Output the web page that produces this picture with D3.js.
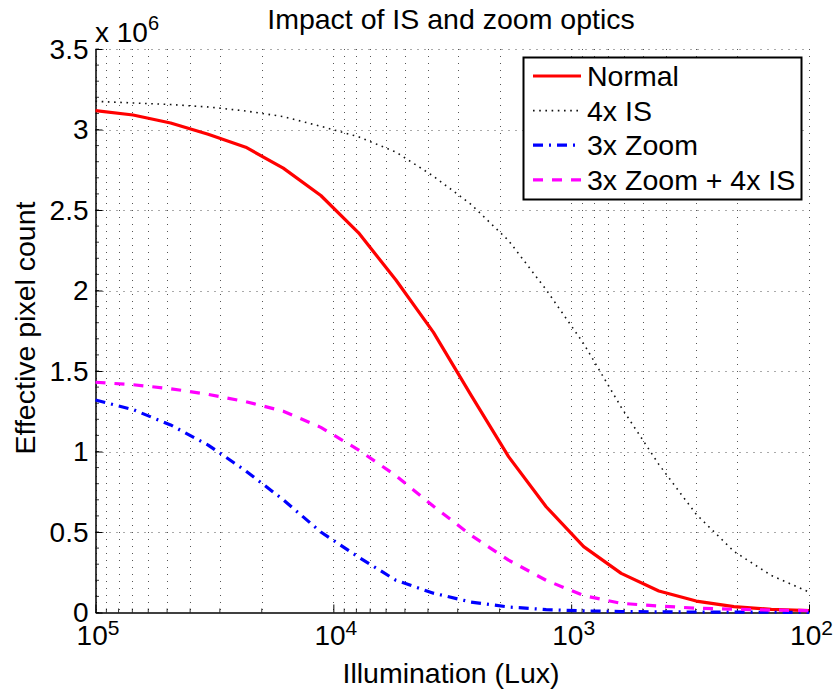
<!DOCTYPE html>
<html>
<head>
<meta charset="utf-8">
<script src="https://cdn.jsdelivr.net/npm/d3@7"></script>
<style>
  body { margin: 0; background: #fff; }
  svg { display: block; font-family: "Liberation Sans", Arial, Helvetica, sans-serif; }
</style>
</head>
<body>
<div id="chart"></div>
<script>
// illumination samples (lux), 20 log-spaced points from 1e5 down to 1e2
var lux = [100000, 69519, 48329, 33598, 23357, 16238, 11288, 7848, 5456, 3793,
           2637, 1833, 1274, 886, 616, 428, 298, 207, 144, 100];

// effective pixel count, in units of 10^6
var normal   = [3.117, 3.09, 3.04, 2.97, 2.89, 2.76, 2.59, 2.36, 2.065, 1.74,
                1.35, 0.968, 0.657, 0.409, 0.243, 0.134, 0.071, 0.036, 0.02, 0.012];
var is4x     = [3.175, 3.165, 3.155, 3.14, 3.115, 3.08, 3.02, 2.955, 2.86, 2.71,
                2.535, 2.31, 2.005, 1.67, 1.275, 0.92, 0.61, 0.38, 0.23, 0.127];
var zoom3x   = [1.32, 1.26, 1.165, 1.04, 0.88, 0.70, 0.50, 0.345, 0.20, 0.12,
                0.065, 0.034, 0.018, 0.01, 0.006, 0.004, 0.003, 0.002, 0.0015, 0.001];
var zoomIs   = [1.43, 1.415, 1.39, 1.355, 1.31, 1.25, 1.15, 1.01, 0.85, 0.66,
                0.48, 0.325, 0.20, 0.105, 0.057, 0.04, 0.027, 0.02, 0.015, 0.012];

var seriesNames = ["Normal", "4x IS", "3x Zoom", "3x Zoom + 4x IS"];
var xMajor = [1e5, 1e4, 1e3, 1e2];
var yMajor = [0, 0.5, 1, 1.5, 2, 2.5, 3, 3.5];

var W = 833, H = 689;
// plot box (careful: "top" is taken by window.top)
var pLeft = 95.5, pRight = 809, pTop = 49, pBottom = 612.5;

var svg = d3.select('#chart').append('svg')
	.attr('width', W).attr('height', H);

var x = d3.scaleLog().domain([1e5, 1e2]).range([pLeft, pRight]);
var y = d3.scaleLinear().domain([0, 3.5]).range([pBottom, pTop]);

// grid, dotted like matlab
var gGrid = svg.append('g').attr('class', 'grid');
var xMinor = x.ticks().filter(function(d){ return xMajor.indexOf(d) == -1; });
var yMinor = d3.range(0, 3.5001, 0.1);

gGrid.selectAll('line.vx')
	.data(x.ticks())
	.enter().append('line')
	.attr('class', 'vx')
	.attr('x1', function(d){ return Math.round(x(d)) + 0.5; })
	.attr('x2', function(d){ return Math.round(x(d)) + 0.5; })
	.attr('y1', pTop).attr('y2', pBottom)
	.style('stroke', '#555').style('stroke-width', 1)
	.style('stroke-dasharray', '1,6');

gGrid.selectAll('line.hy')
	.data(yMajor.slice(1))
	.enter().append('line')
	.attr('class', 'hy')
	.attr('x1', pLeft).attr('x2', pRight)
	.attr('y1', function(d){ return Math.round(y(d)) + 0.5; })
	.attr('y2', function(d){ return Math.round(y(d)) + 0.5; })
	.style('stroke', '#555').style('stroke-width', 1)
	.style('stroke-dasharray', '1,6');

// axes
var yAxis = d3.axisLeft(y).tickValues(yMajor).tickSizeInner(-7).tickSizeOuter(0)
	.tickPadding(7).tickFormat(function(d){ return d3.format('~g')(d); });
var gy = svg.append('g').attr('transform', 'translate(' + pLeft + ',0)').call(yAxis);
gy.attr('font-family', null);
gy.selectAll('text').style('font-size', '28px').style('fill', '#000').attr('dy', '0.33em');
gy.select('.domain').style('stroke', '#000').style('stroke-width', 1.5);
gy.selectAll('.tick line').style('stroke', '#000');

svg.append('g').selectAll('line')
	.data(yMinor)
	.enter().append('line')
	.attr('x1', pLeft).attr('x2', pLeft + 3.5)
	.attr('y1', function(d){ return y(d); }).attr('y2', function(d){ return y(d); })
	.style('stroke', '#000').style('stroke-width', 0.8);

var xAxis = d3.axisBottom(x).tickValues(xMajor).tickSizeInner(-8).tickSizeOuter(0)
	.tickPadding(12).tickFormat(function(){ return ''; });
var gx = svg.append('g').attr('transform', 'translate(0,' + pBottom + ')').call(xAxis);
gx.attr('font-family', null);
gx.select('.domain').style('stroke', '#000').style('stroke-width', 1.5);
gx.selectAll('.tick line').style('stroke', '#000');
gx.selectAll('.tick text').remove();
gx.selectAll('.tick').append('text')
	.attr('y', 32).attr('x', 2)
	.attr('text-anchor', 'middle')
	.style('fill', '#000')
	.style('font-size', '28px')
	.each(function(d){
		var t = d3.select(this);
		t.append('tspan').text('10');
		t.append('tspan').attr('dy', -10).style('font-size', '21px')
			.text(Math.round(Math.log10(d)));
	});

svg.append('g').selectAll('line')
	.data(xMinor)
	.enter().append('line')
	.attr('x1', function(d){ return x(d); }).attr('x2', function(d){ return x(d); })
	.attr('y1', pBottom).attr('y2', pBottom - 4)
	.style('stroke', '#000').style('stroke-width', 0.8);

// exponent label
var ex = svg.append('text').attr('x', 95).attr('y', 42)
	.style('font-size', '28px').style('fill', '#000');
ex.append('tspan').text('x 10');
ex.append('tspan').attr('dy', -12).style('font-size', '20px').text('6');

// title + labels
svg.append('text').attr('x', 451).attr('y', 29)
	.attr('text-anchor', 'middle').style('font-size', '28.5px')
	.text('Impact of IS and zoom optics');

svg.append('text').attr('x', 451).attr('y', 683)
	.attr('text-anchor', 'middle').style('font-size', '28.5px')
	.text('Illumination (Lux)');

svg.append('text')
	.attr('transform', 'translate(35,328) rotate(-90)')
	.attr('text-anchor', 'middle').style('font-size', '28.5px')
	.text('Effective pixel count');

// lines
var styles = [
	{ color: '#ff0000', width: 3.2, dash: null },
	{ color: '#111111', width: 1.6, dash: '1.6,4.6' },
	{ color: '#0000ff', width: 3.2, dash: '10,6,2,6' },
	{ color: '#ff00ff', width: 3.2, dash: '10,9' }
];
var allSeries = [normal, is4x, zoom3x, zoomIs];

var line = d3.line()
	.x(function(d, i){ return x(lux[i]); })
	.y(function(d){ return y(d); });

var gLines = svg.append('g').attr('class', 'lines');
gLines.selectAll('path')
	.data(allSeries)
	.enter().append('path')
	.attr('d', line)
	.style('fill', 'none')
	.style('stroke', function(d, i){ return styles[i].color; })
	.style('stroke-width', function(d, i){ return styles[i].width; })
	.style('stroke-dasharray', function(d, i){ return styles[i].dash; })
	.style('stroke-linejoin', 'round');

// legend
var gLeg = svg.append('g').attr('class', 'legend');
gLeg.append('rect')
	.attr('x', 523.5).attr('y', 57.5).attr('width', 278).attr('height', 142)
	.style('fill', '#fff').style('stroke', '#000').style('stroke-width', 2);

var rows = gLeg.selectAll('g.row')
	.data(seriesNames)
	.enter().append('g')
	.attr('class', 'row')
	.attr('transform', function(d, i){ return 'translate(0,' + (76 + i * 34.6) + ')'; });

rows.append('line')
	.attr('x1', 533).attr('x2', 581).attr('y1', 0).attr('y2', 0)
	.style('stroke', function(d, i){ return styles[i].color; })
	.style('stroke-width', function(d, i){ return styles[i].width; })
	.style('stroke-dasharray', function(d, i){ return styles[i].dash; });

rows.append('text')
	.attr('x', 587).attr('y', 10)
	.style('font-size', '28.5px').style('fill', '#000')
	.text(function(d){ return d; });
</script>
</body>
</html>
